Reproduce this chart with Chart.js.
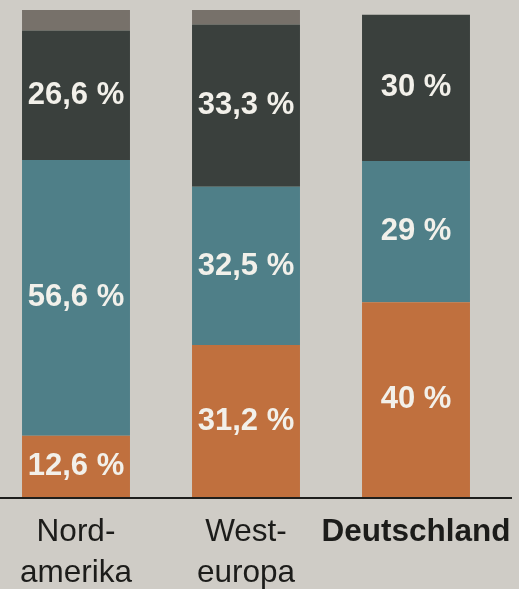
<!DOCTYPE html>
<html>
<head>
<meta charset="utf-8">
<script src="https://cdn.jsdelivr.net/npm/chart.js@4"></script>
<style>
  html, body { margin: 0; padding: 0; background: #cfccc6; overflow: hidden; }
  #wrap { position: absolute; left: -9px; top: 0; width: 521px; height: 609px; }
</style>
</head>
<body>
<div id="wrap"><canvas id="c"></canvas></div>
<script>
const categories = [['Nord-', 'amerika'], ['West-', 'europa'], 'Deutschland'];
const orangeShare = [12.6, 31.2, 40];
const blueShare = [56.6, 32.5, 29];
const darkShare = [26.6, 33.3, 30];
const restShare = [4.2, 3.0, 0];

const fmt = v => (Number.isInteger(v) ? String(v) : v.toFixed(1).replace('.', ',')) + ' %';

const valueLabels = {
  id: 'valueLabels',
  afterDatasetsDraw(chart) {
    const ctx = chart.ctx;
    ctx.save();
    ctx.fillStyle = '#f2f0ea';
    ctx.font = 'bold 31px "Liberation Sans", Arial, sans-serif';
    ctx.textAlign = 'center';
    ctx.textBaseline = 'middle';
    chart.data.datasets.forEach((ds, di) => {
      if (!ds.showLabel) return;
      const meta = chart.getDatasetMeta(di);
      meta.data.forEach((bar, i) => {
        const v = ds.data[i];
        if (!v) return;
        const yMid = (bar.y + bar.base) / 2;
        ctx.fillText(fmt(v), bar.x, yMid);
      });
    });
    ctx.restore();
  }
};

const baseLine = {
  id: 'baseLine',
  afterDatasetsDraw(chart) {
    const ctx = chart.ctx;
    const y = chart.scales.y.getPixelForValue(0);
    ctx.save();
    ctx.strokeStyle = '#1e1e1c';
    ctx.lineWidth = 2;
    ctx.beginPath();
    ctx.moveTo(0, y + 1);
    ctx.lineTo(chart.width, y + 1);
    ctx.stroke();
    ctx.restore();
  }
};

new Chart(document.getElementById('c'), {
  type: 'bar',
  data: {
    labels: categories,
    datasets: [
      { label: 'orange', data: orangeShare, backgroundColor: '#c0703e', showLabel: true },
      { label: 'blue', data: blueShare, backgroundColor: '#4f7f88', showLabel: true },
      { label: 'dark', data: darkShare, backgroundColor: '#3a403d', showLabel: true },
      { label: 'rest', data: restShare, backgroundColor: '#77716a', showLabel: false }
    ]
  },
  options: {
    responsive: true,
    maintainAspectRatio: false,
    animation: false,
    layout: { padding: { top: 10, right: 11, left: 0, bottom: 0 } },
    datasets: { bar: { categoryPercentage: 1, barPercentage: 0.635, borderWidth: 0 } },
    plugins: { legend: { display: false }, tooltip: { enabled: false } },
    scales: {
      x: {
        stacked: true,
        grid: { display: false, drawTicks: false },
        border: { display: false },
        afterFit: s => { s.paddingLeft = 0; s.paddingRight = 0; },
        ticks: {
          color: '#1c1c1a',
          padding: 15,
          maxRotation: 0,
          autoSkip: false,
          font: c => ({
            family: '"Liberation Sans", Arial, sans-serif',
            size: 31.5,
            lineHeight: 1.3,
            weight: c.index === 2 ? 'bold' : 'normal'
          })
        }
      },
      y: {
        stacked: true,
        display: false,
        min: 0,
        max: 100
      }
    }
  },
  plugins: [valueLabels, baseLine]
});
</script>
</body>
</html>
